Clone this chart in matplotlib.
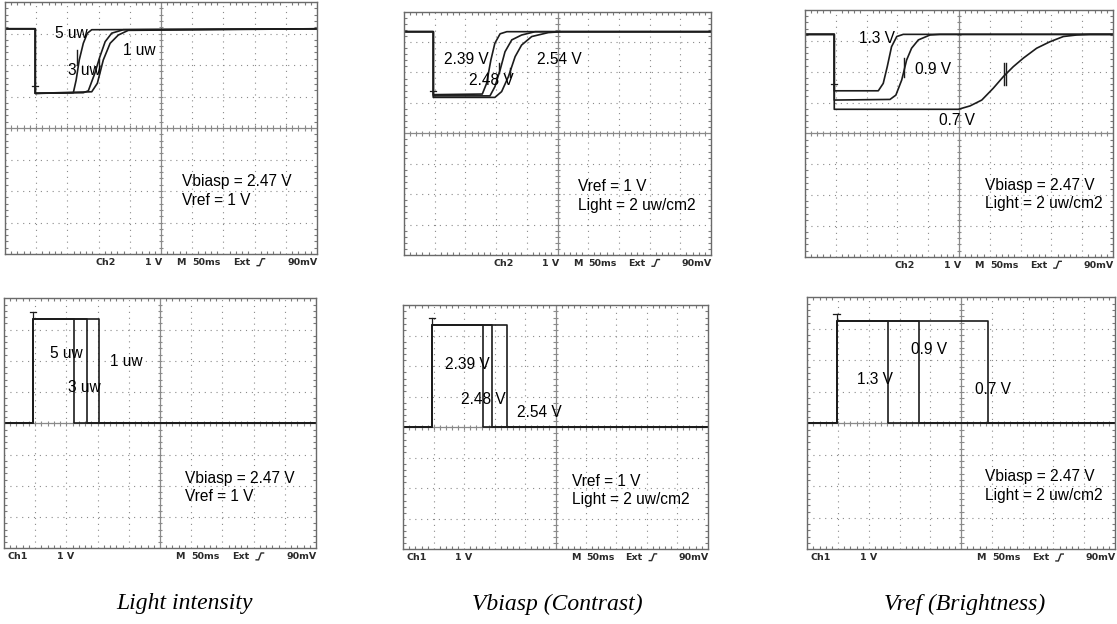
import numpy as np
import matplotlib.pyplot as plt

# all trace values are in scope divisions (x: 0..10, y: -4..4)

# ---- top row (Ch2 output) ----
# light intensity
li_top_5uw_x = [0, 0.97, 0.97, 2.19, 2.28, 2.38, 2.51, 2.64, 2.78, 10]
li_top_5uw_y = [3.15, 3.15, 1.10, 1.12, 1.52, 2.16, 2.69, 3.01, 3.12, 3.15]
li_top_3uw_x = [0, 0.97, 0.97, 2.51, 2.67, 2.88, 3.04, 3.21, 3.42, 3.79, 10]
li_top_3uw_y = [3.15, 3.15, 1.10, 1.12, 1.18, 1.74, 2.26, 2.74, 3.01, 3.12, 3.15]
li_top_1uw_x = [0, 0.97, 0.97, 2.78, 2.96, 3.15, 3.37, 3.63, 3.95, 10]
li_top_1uw_y = [3.15, 3.15, 1.10, 1.15, 1.42, 2.16, 2.69, 2.95, 3.10, 3.15]

# vbiasp
vb_top_239_x = [0, 0.955, 0.955, 2.55, 2.69, 2.83, 2.96, 3.13, 3.35, 10]
vb_top_239_y = [3.34, 3.34, 1.27, 1.29, 1.64, 2.41, 2.96, 3.27, 3.34, 3.34]
vb_top_248_x = [0, 0.955, 0.955, 2.80, 2.96, 3.13, 3.29, 3.51, 3.83, 4.27, 10]
vb_top_248_y = [3.34, 3.34, 1.23, 1.23, 1.53, 2.08, 2.68, 3.07, 3.23, 3.34, 3.34]
vb_top_254_x = [0, 0.955, 0.955, 2.96, 3.18, 3.40, 3.62, 3.83, 4.16, 4.70, 5.14, 10]
vb_top_254_y = [3.34, 3.34, 1.18, 1.18, 1.37, 1.86, 2.52, 2.90, 3.18, 3.31, 3.34, 3.34]

# vref
vr_top_13_x = [0, 0.95, 0.95, 2.38, 2.54, 2.67, 2.81, 2.98, 3.19, 10]
vr_top_13_y = [3.21, 3.21, 1.38, 1.38, 1.62, 2.16, 2.81, 3.14, 3.21, 3.21]
vr_top_09_x = [0, 0.95, 0.95, 2.76, 2.95, 3.14, 3.30, 3.46, 3.68, 4.06, 4.38, 10]
vr_top_09_y = [3.21, 3.21, 1.08, 1.10, 1.24, 1.73, 2.38, 2.76, 3.03, 3.19, 3.21, 3.21]
vr_top_07_x = [0, 0.95, 0.95, 4.98, 5.36, 5.74, 6.11, 6.44, 6.76, 7.09, 7.52, 7.95, 8.39, 8.82, 9.25, 10]
vr_top_07_y = [3.21, 3.21, 0.78, 0.78, 0.89, 1.08, 1.46, 1.84, 2.16, 2.44, 2.76, 2.97, 3.14, 3.19, 3.21, 3.21]

# ---- bottom row (Ch1 pulse) ----
li_bot_rise, li_bot_high, li_bot_falls = 0.94, 3.33, [2.24, 2.65, 3.04]
vb_bot_rise, vb_bot_high, vb_bot_falls = 0.93, 3.35, [2.61, 2.91, 3.42]
vr_bot_rise, vr_bot_high, vr_bot_falls = 0.95, 3.26, [2.61, 3.63, 5.86]

# cursor bars (x, y0, y1) and trigger marks (x, y)
li_bars = [(2.32, 2.00, 2.48), (3.01, 1.74, 2.18)]
vb_bars = [(3.09, 1.97, 2.30), (3.45, 1.86, 2.14)]
vr_bars = [(3.22, 1.84, 2.44), (6.47, 1.57, 2.27), (6.53, 1.57, 2.27)]
top_trig = [(0.97, 1.10), (0.955, 1.18), (0.95, 1.38)]

# labels
li_top_labels = [(1.60, 3.00, '5 uw'), (2.03, 1.84, '3 uw'), (3.79, 2.45, '1 uw'),
                 (5.67, -1.70, 'Vbiasp = 2.47 V'), (5.67, -2.29, 'Vref = 1 V')]
vb_top_labels = [(1.31, 2.41, '2.39 V'), (2.12, 1.75, '2.48 V'), (4.32, 2.41, '2.54 V'),
                 (5.66, -1.76, 'Vref = 1 V'), (5.66, -2.36, 'Light = 2 uw/cm2')]
vr_top_labels = [(1.76, 3.08, '1.3 V'), (3.57, 2.06, '0.9 V'), (4.36, 0.43, '0.7 V'),
                 (5.84, -1.70, 'Vbiasp = 2.47 V'), (5.84, -2.27, 'Light = 2 uw/cm2')]
li_bot_labels = [(1.47, 2.24, '5 uw'), (3.40, 1.97, '1 uw'), (2.06, 1.15, '3 uw'),
                 (5.80, -1.76, 'Vbiasp = 2.47 V'), (5.80, -2.35, 'Vref = 1 V')]
vb_bot_labels = [(1.37, 2.07, '2.39 V'), (1.90, 0.92, '2.48 V'), (3.75, 0.48, '2.54 V'),
                 (5.54, -1.78, 'Vref = 1 V'), (5.54, -2.38, 'Light = 2 uw/cm2')]
vr_bot_labels = [(3.36, 2.33, '0.9 V'), (1.60, 1.40, '1.3 V'), (5.44, 1.06, '0.7 V'),
                 (5.77, -1.70, 'Vbiasp = 2.47 V'), (5.77, -2.28, 'Light = 2 uw/cm2')]

captions = ['Light intensity', 'Vbiasp (Contrast)', 'Vref (Brightness)']

W, H = 1117, 624
fig = plt.figure(figsize=(W / 100, H / 100), dpi=100)

TRACE = '#1c1c1c'
GRID = '#8a8a8a'
LW = 1.2


def add_panel(l, t, r, b):
    ax = fig.add_axes([l / W, 1 - b / H, (r - l) / W, (b - t) / H])
    ax.set_xlim(0, 10)
    ax.set_ylim(-4, 4)
    for s in ax.spines.values():
        s.set_color('#6a6a6a')
        s.set_linewidth(1.0)
    ax.set_xticks(range(11))
    ax.set_yticks(range(-4, 5))
    ax.set_xticks(np.arange(0, 10.01, 0.2), minor=True)
    ax.set_yticks(np.arange(-4, 4.01, 0.2), minor=True)
    ax.tick_params(which='both', direction='in', top=True, right=True,
                   labelbottom=False, labelleft=False, color='#7a7a7a')
    ax.tick_params(which='major', length=0)
    ax.tick_params(which='minor', length=2.5, width=0.8)
    ax.grid(True, which='major', color=GRID, linestyle=(0, (1, 4.3)), linewidth=0.8)
    ax.axhline(0, color=GRID, lw=0.9, zorder=1)
    ax.axvline(5, color=GRID, lw=0.9, zorder=1)
    ax.vlines(np.arange(0, 10.01, 0.2), -0.08, 0.08, color=GRID, lw=0.8)
    ax.hlines(np.arange(-4, 4.01, 0.2), 4.92, 5.08, color=GRID, lw=0.8)
    return ax


def status(ax, ch):
    kw = dict(fontsize=6.8, family='DejaVu Sans', fontweight='bold', color='#2a2a2a',
              va='center', ha='left', clip_on=False)
    y = -4.27
    if ch == 'Ch2':
        ax.text(2.9, y, 'Ch2', **kw)
        ax.text(4.5, y, '1 V', **kw)
    else:
        ax.text(0.1, y, 'Ch1', **kw)
        ax.text(1.7, y, '1 V', **kw)
    ax.text(5.5, y, 'M', **kw)
    ax.text(6.0, y, '50ms', **kw)
    ax.text(7.3, y, 'Ext', **kw)
    ax.plot([8.08, 8.16, 8.24, 8.32], [-4.37, -4.37, -4.15, -4.15],
            color='#2a2a2a', lw=1.0, clip_on=False)
    ax.text(9.05, y, '90mV', **kw)


def trig(ax, x, y):
    ax.plot([x - 0.1, x + 0.1], [y + 0.22, y + 0.22], color=TRACE, lw=0.9)
    ax.plot([x, x], [y, y + 0.22], color=TRACE, lw=0.9)


def labels(ax, items):
    for x, y, s in items:
        ax.text(x, y, s, fontsize=11.2, family='Liberation Sans', va='center', ha='left')


def pulses(ax, rise, high, falls):
    for f in falls:
        ax.plot([0, rise, rise, f, f, 10], [0, 0, high, high, 0, 0], color=TRACE, lw=LW)


# top row
ax1 = add_panel(5, 2, 317, 254)
for xs, ys in [(li_top_5uw_x, li_top_5uw_y), (li_top_3uw_x, li_top_3uw_y), (li_top_1uw_x, li_top_1uw_y)]:
    ax1.plot(xs, ys, color=TRACE, lw=LW)
ax2 = add_panel(404, 11.6, 711, 255)
for xs, ys in [(vb_top_239_x, vb_top_239_y), (vb_top_248_x, vb_top_248_y), (vb_top_254_x, vb_top_254_y)]:
    ax2.plot(xs, ys, color=TRACE, lw=LW)
ax3 = add_panel(805, 10, 1113, 256.7)
for xs, ys in [(vr_top_13_x, vr_top_13_y), (vr_top_09_x, vr_top_09_y), (vr_top_07_x, vr_top_07_y)]:
    ax3.plot(xs, ys, color=TRACE, lw=LW)

for ax, bars, (tx, ty), lab in [(ax1, li_bars, top_trig[0], li_top_labels),
                                (ax2, vb_bars, top_trig[1], vb_top_labels),
                                (ax3, vr_bars, top_trig[2], vr_top_labels)]:
    for x, y0, y1 in bars:
        ax.plot([x, x], [y0, y1], color=TRACE, lw=1.0)
    trig(ax, tx, ty)
    labels(ax, lab)
    status(ax, 'Ch2')

# bottom row
ax4 = add_panel(4, 298.3, 316, 548.3)
pulses(ax4, li_bot_rise, li_bot_high, li_bot_falls)
ax5 = add_panel(403.3, 305.3, 707.7, 549.3)
pulses(ax5, vb_bot_rise, vb_bot_high, vb_bot_falls)
ax6 = add_panel(807.3, 297.3, 1115, 549.3)
pulses(ax6, vr_bot_rise, vr_bot_high, vr_bot_falls)

for ax, (rise, high), lab in [(ax4, (li_bot_rise, li_bot_high), li_bot_labels),
                              (ax5, (vb_bot_rise, vb_bot_high), vb_bot_labels),
                              (ax6, (vr_bot_rise, vr_bot_high), vr_bot_labels)]:
    trig(ax, rise, high)
    labels(ax, lab)
    status(ax, 'Ch1')

# captions
for cx, txt in zip([185, 557, 965], captions):
    fig.text(cx / W, 1 - 604 / H, txt, ha='center', va='center', fontsize=17,
             family='Liberation Serif', style='italic')

fig.savefig('out.png', dpi=100)
